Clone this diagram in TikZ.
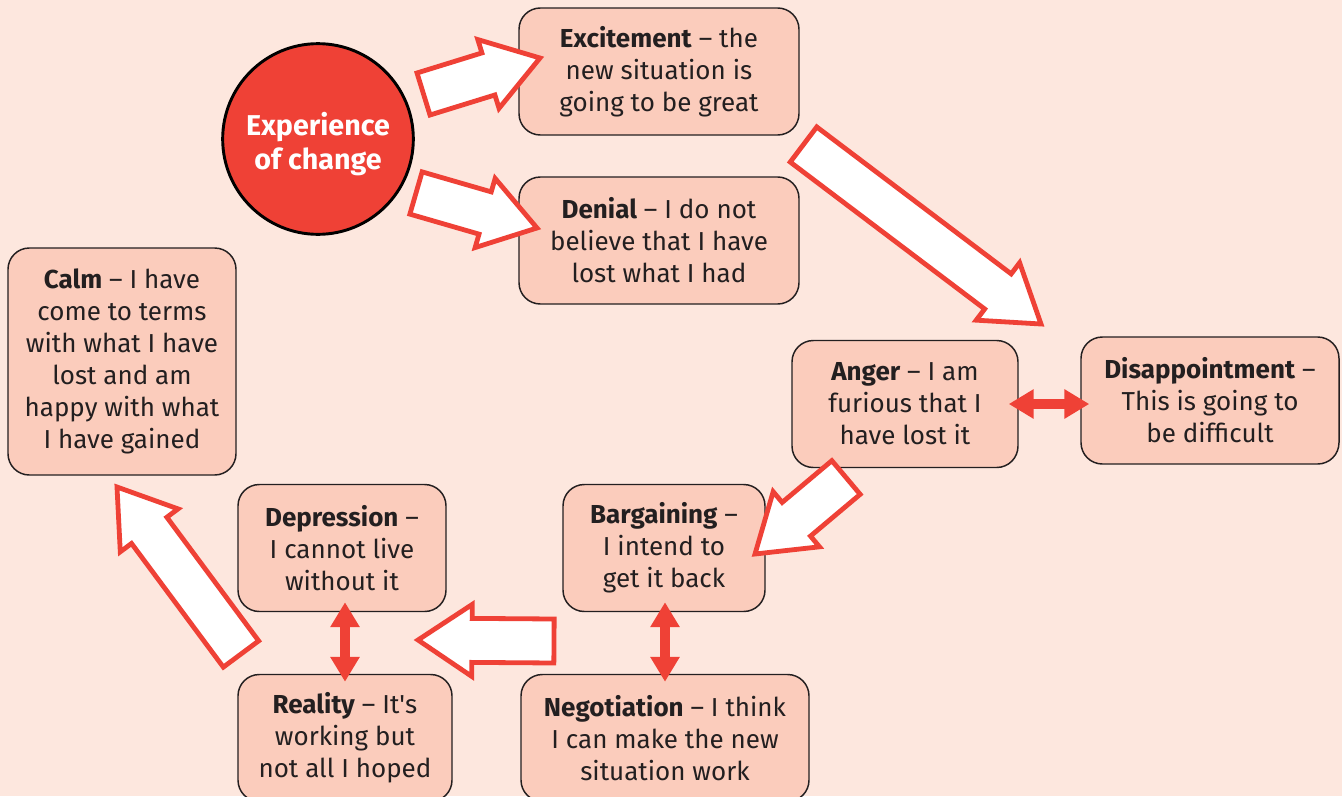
\documentclass[tikz,border=0pt]{standalone}
\usepackage{fontspec}
\setmainfont{Fira Sans}
\usetikzlibrary{arrows.meta,calc}
\definecolor{bgpink}{RGB}{253,231,222}
\definecolor{boxpink}{RGB}{251,204,188}
\definecolor{boldred}{RGB}{239,65,54}
\definecolor{inkgray}{RGB}{35,31,32}
\newcommand{\blockarrow}[2]{%
  \coordinate (#1-#2-h) at ($(#2)!40.5pt!(#1)$);
  \draw[flow] ($(#1)!16.5pt!90:(#2)$) -- ($(#1-#2-h)!16.5pt!90:(#2)$) -- ($(#1-#2-h)!27pt!90:(#2)$) -- (#2)
    -- ($(#1-#2-h)!27pt!-90:(#2)$) -- ($(#1-#2-h)!16.5pt!-90:(#2)$) -- ($(#1)!16.5pt!-90:(#2)$) -- cycle;}

\begin{document}
\begin{tikzpicture}[x=0.75pt,y=-0.75pt,font=\fontsize{19.5}{24}\selectfont,stage/.style={rectangle,rounded corners=16pt,draw=inkgray,line width=1.1pt,fill=boxpink,text=inkgray,align=center,inner sep=0pt,minimum height=95.25pt},flow/.style={draw=boldred,line width=3.6pt,fill=white},swing/.style={boldred,line width=7.5pt,{Triangle[length=18.75pt,width=21pt]}-{Triangle[length=18.75pt,width=21pt]}}]
\useasboundingbox (0,0) rectangle (1342,796);
\fill[bgpink] (0,0) rectangle (1342,796);
\node[stage,minimum width=210pt] (excite) at (659,71.5) {\textbf{Excitement} – the\\new situation is\\going to be great};
\node[stage,minimum width=210pt] (denial) at (659,240.5) {\textbf{Denial} – I do not\\believe that I have\\lost what I had};
\node[stage,minimum width=171pt,minimum height=170.25pt] (calm) at (122,361.5) {\textbf{Calm} – I have\\come to terms\\with what I have\\lost and am\\happy with what\\I have gained};
\node[stage,minimum width=169.5pt] (anger) at (905,404) {\textbf{Anger} – I am\\furious that I\\have lost it};
\node[stage,minimum width=193.5pt] (disap) at (1210,400.5) {\textbf{Disappointment} –\\This is going to\\be difficult};
\node[stage,minimum width=151.5pt] (bargain) at (664,548) {\textbf{Bargaining} –\\I intend to\\get it back};
\node[stage,minimum width=156pt] (depress) at (342,548) {\textbf{Depression} –\\I cannot live\\without it};
\node[stage,minimum width=160.5pt] (reality) at (345,738) {\textbf{Reality} – It\textquotesingle s\\working but\\not all I hoped};
\node[stage,minimum width=216pt] (negot) at (665,738) {\textbf{Negotiation} – I think\\I can make the new\\situation work};
\node[circle,draw=black,line width=2.2pt,fill=boldred,minimum size=143pt,inner sep=0pt,label={[text=white,align=center,yshift=-3.75pt,font=\fontsize{21.5}{25.5}\selectfont\bfseries]center:Experience\\of change}] (change) at (318,139) {};
\coordinate (chg-exc) at (423.5,94);
\coordinate (exc-in) at (540,58);
\coordinate (chg-den) at (416,193);
\coordinate (den-in) at (537,228);
\coordinate (exc-out) at (803.5,144.5);
\coordinate (dis-in) at (1041,324);
\coordinate (ang-out) at (846,477.5);
\coordinate (bar-in) at (755,554);
\coordinate (neg-out) at (554,641);
\coordinate (dep-in) at (418,640);
\coordinate (rea-out) at (241,654);
\coordinate (calm-in) at (117,487);
\blockarrow{chg-exc}{exc-in}
\blockarrow{chg-den}{den-in}
\blockarrow{exc-out}{dis-in}
\blockarrow{ang-out}{bar-in}
\blockarrow{neg-out}{dep-in}
\blockarrow{rea-out}{calm-in}
\coordinate (ang-r) at ([xshift=-7.5pt]anger.east);
\coordinate (dis-l) at ([xshift=6.75pt]disap.west |- ang-r);
\coordinate (dep-b) at ([yshift=7.5pt]depress.south -| 345,0);
\coordinate (rea-t) at ([yshift=-6pt]reality.north -| 345,0);
\coordinate (bar-b) at ([yshift=7.5pt]bargain.south -| 665,0);
\coordinate (neg-t) at ([yshift=-6pt]negot.north -| 665,0);
\draw[swing] (ang-r) -- (dis-l);
\draw[swing] (dep-b) -- (rea-t);
\draw[swing] (bar-b) -- (neg-t);
\end{tikzpicture}
\end{document}
